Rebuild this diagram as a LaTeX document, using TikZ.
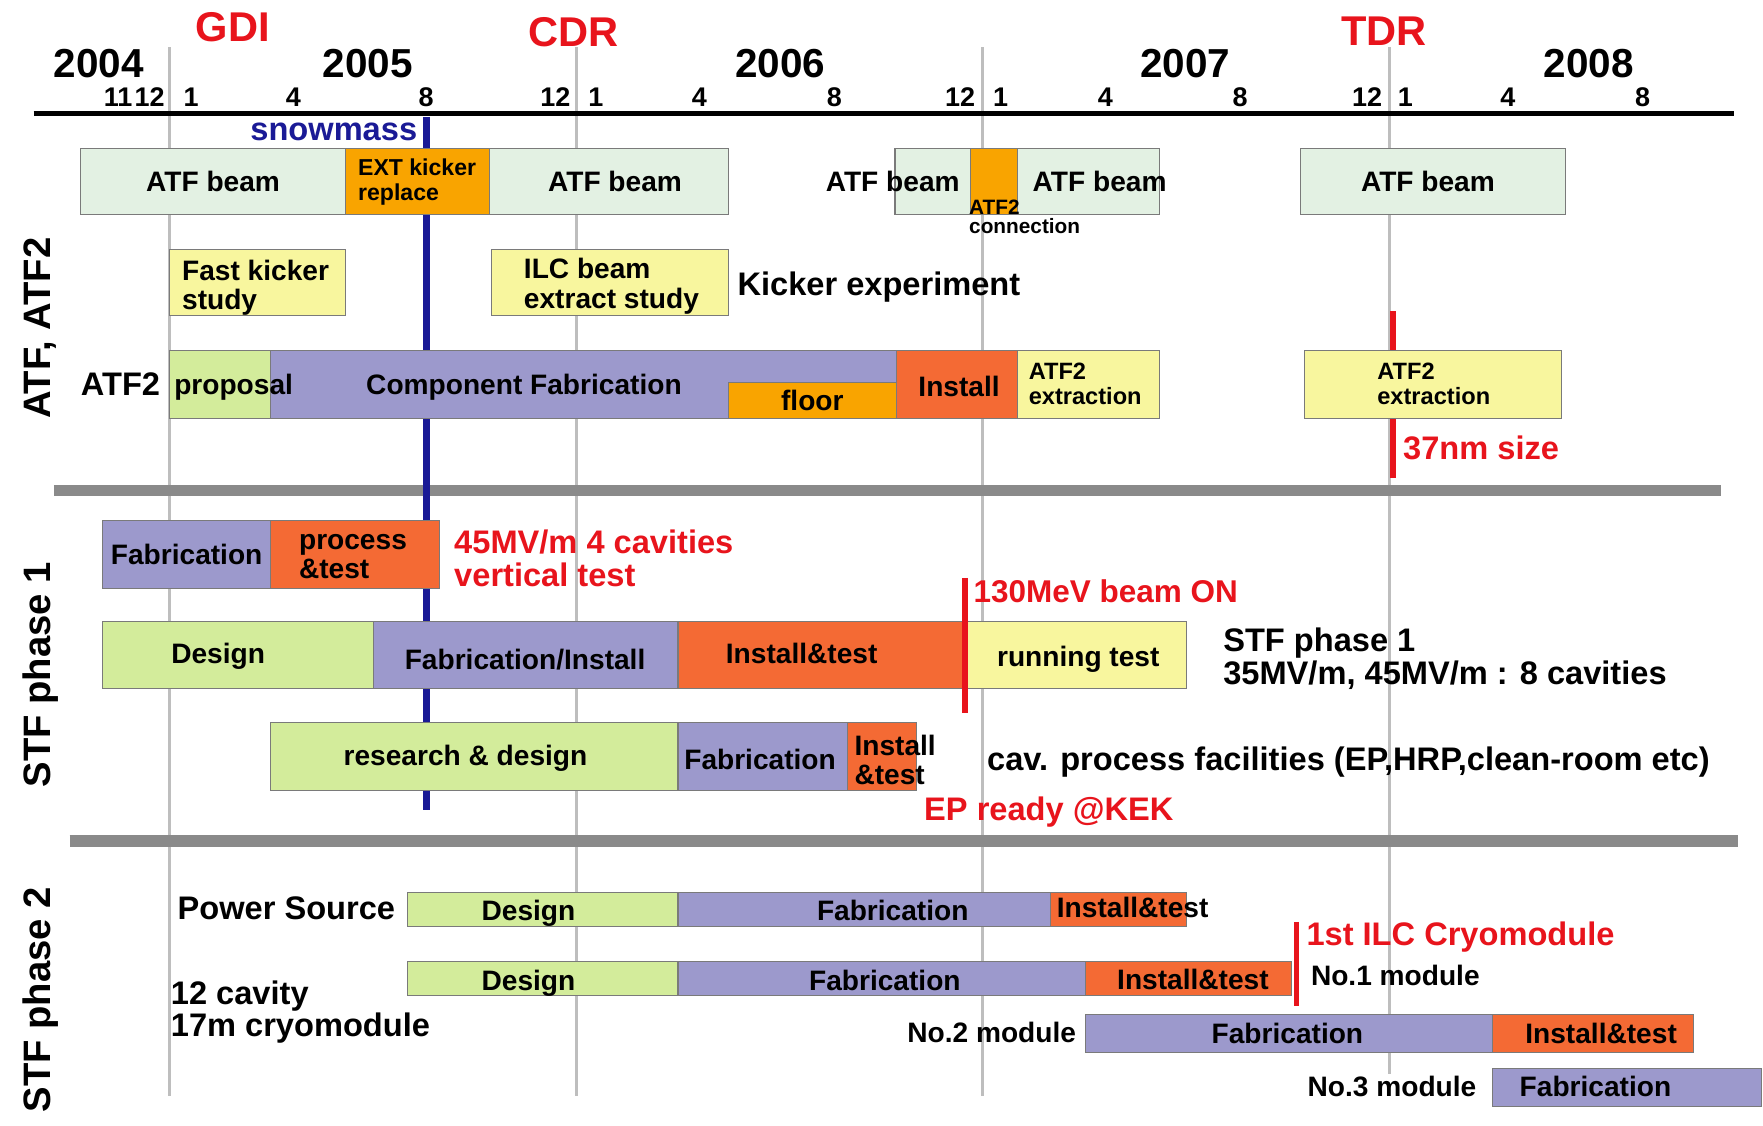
\documentclass[tikz,border=0pt]{standalone}
\usepackage{fontspec}
\setmainfont{Liberation Sans}
\definecolor{atfg}{HTML}{E3F1E3}
\definecolor{lgreen}{HTML}{D3EC9B}
\definecolor{purp}{HTML}{9C99CC}
\definecolor{rorange}{HTML}{F46A34}
\definecolor{orng}{HTML}{F9A400}
\definecolor{yel}{HTML}{F8F69E}
\definecolor{redt}{HTML}{E8141C}
\definecolor{navy}{HTML}{1A1A96}
\definecolor{vgray}{HTML}{BEBEBE}
\definecolor{sgray}{HTML}{8A8A8A}
\definecolor{bord}{HTML}{7A7A7A}
\newcommand{\fs}[2]{\fontsize{#1pt}{#2pt}\selectfont\bfseries}
\newcommand{\tbar}[7]{\node[bar,#2,minimum width={(#5-#3)*1pt},minimum height={(#6-#4)*1pt}] (#1) at (#3,#4) {#7};}
\tikzset{
 txt/.style={inner sep=0pt, outer sep=0pt, text depth=0pt, font=\fs{25}{26}},
 lab/.style={txt, font=\fs{29}{29}},
 yearlab/.style={txt, font=\fs{36}{36}},
 monlab/.style={txt, font=\fs{24}{24}},
 milestone/.style={txt, text=redt, font=\fs{37}{37}},
 side/.style={txt, rotate=90, font=\fs{34}{34}},
 bar/.style={draw=bord, line width=0.9pt, inner sep=0pt, outer sep=0pt, anchor=north west, text depth=0pt, font=\fs{25}{26}},
 vline/.style={vgray, line width=3pt},
 sepline/.style={sgray, line width=10pt},
 redline/.style={redt, line width=5pt},
}
\begin{document}
\begin{tikzpicture}[x=1pt,y=-1pt]
\useasboundingbox[fill=white] (0,0) rectangle (1568,1001);
% year boundary lines
\draw[vline] (151,42) -- (151,975);
\draw[vline] (513,42) -- (513,975);
\draw[vline] (874,42) -- (874,975);
\draw[vline] (1236,42) -- (1236,955);
% separators
\draw[sepline] (48,436) -- (1531,436);
\draw[sepline] (62,748) -- (1546,748);
% time axis
\draw[line width=5pt] (30,101) -- (1542,101);
% snowmass line
\draw[navy, line width=6pt] (379.5,104) -- (379.5,720);
% TDR marker line
\draw[redline] (1239,277) -- (1239,425);

% top labels
\node[milestone] (gdi) at (207,24) {GDI};
\node[milestone] (cdr) at (510,28) {CDR};
\node[milestone] (tdr) at (1231,28) {TDR};
\node[yearlab] (y2004) at (88,56) {2004};
\node[yearlab] (y2005) at (327,56) {2005};
\node[yearlab] (y2006) at (694,56) {2006};
\node[yearlab] (y2007) at (1054,56) {2007};
\node[yearlab] (y2008) at (1413,56) {2008};
\node[monlab] (m1) at (105,86.5) {11};
\node[monlab] (m2) at (133,86.5) {12};
\node[monlab] (m3) at (170,86.5) {1};
\node[monlab] (m4) at (261,86.5) {4};
\node[monlab] (m5) at (379,86.5) {8};
\node[monlab] (m6) at (494,86.5) {12};
\node[monlab] (m7) at (530,86.5) {1};
\node[monlab] (m8) at (622,86.5) {4};
\node[monlab] (m9) at (742,86.5) {8};
\node[monlab] (m10) at (854,86.5) {12};
\node[monlab] (m11) at (890,86.5) {1};
\node[monlab] (m12) at (983,86.5) {4};
\node[monlab] (m13) at (1103,86.5) {8};
\node[monlab] (m14) at (1216,86.5) {12};
\node[monlab] (m15) at (1250,86.5) {1};
\node[monlab] (m16) at (1341,86.5) {4};
\node[monlab] (m17) at (1461,86.5) {8};
\node[lab, text=navy, anchor=east] (snow) at (371,117) {snowmass};

% side labels
\node[side] (sec1) at (33,292) {ATF, ATF2};
\node[side] (sec2) at (33,600) {STF phase 1};
\node[side] (sec3) at (33,889) {STF phase 2};

% ---- ATF row 1
\tbar{atfA}{fill=atfg}{72}{132}{307}{191}{ATF beam}
\tbar{ext}{fill=orng}{307}{132}{435}{191}{}
\node[txt, font=\fs{20.5}{22}, align=left] (extt) at (371,160) {EXT kicker\\replace};
\tbar{atfB}{fill=atfg}{435}{132}{648}{191}{}
\node[txt] (atfBt) at (547,161) {ATF beam};
\tbar{atfC}{fill=atfg}{796}{132}{863}{191}{}
\tbar{conn}{fill=orng}{863}{132}{905}{191}{}
\tbar{atfD}{fill=atfg}{905}{132}{1031}{191}{}
\node[txt] (atfCt) at (794,161) {ATF beam};
\node[txt] (atfDt) at (978,161) {ATF beam};
\node[txt, font=\fs{18.5}{17}, anchor=west, align=left] (connt) at (862,193) {ATF2\\connection};
\tbar{atfE}{fill=atfg}{1157}{132}{1392}{191}{}
\node[txt] (atfEt) at (1270,161) {ATF beam};
% ---- ATF row 2
\tbar{fk}{fill=yel}{151}{222}{307}{281}{}
\node[txt, anchor=west, align=left] (fkt) at (162,253) {Fast kicker\\study};
\tbar{ilc}{fill=yel}{437}{222}{648}{281}{}
\node[txt, anchor=west, align=left] (ilct) at (466,252) {ILC beam\\extract study};
\node[lab, anchor=west] (kick) at (656,252) {Kicker experiment};
% ---- ATF row 3
\node[lab, anchor=west] (atf2l) at (72,342) {ATF2};
\tbar{prop}{fill=lgreen}{151}{312}{241}{372}{}
\tbar{comp}{fill=purp}{241}{312}{797}{372}{}
\node[txt, anchor=west] (propt) at (155,342) {proposal};
\node[txt] (compt) at (466,342) {Component Fabrication};
\tbar{floor}{fill=orng}{648}{340}{797}{372}{floor}
\tbar{inst}{fill=rorange}{797}{312}{905}{372}{}
\node[txt] (instt) at (853,344) {Install};
\tbar{ext1}{fill=yel}{905}{312}{1031}{372}{}
\node[txt, font=\fs{21}{22}, anchor=west, align=left] (ext1t) at (915,341) {ATF2\\extraction};
\tbar{ext2}{fill=yel}{1160}{312}{1389}{372}{}
\node[txt, font=\fs{21}{22}, anchor=west, align=left] (ext2t) at (1225,341) {ATF2\\extraction};
\node[lab, text=redt, anchor=west] (nm) at (1248,398) {37nm size};

% ---- STF phase 1 row 1
\tbar{p1fab}{fill=purp}{91}{463}{241}{523}{Fabrication}
\tbar{p1proc}{fill=rorange}{241}{463}{391}{523}{}
\node[txt, anchor=west, align=left] (p1proct) at (266,495) {process\\\&test};
\node[lab, text=redt, anchor=west, align=left] (vt) at (404,496.5) {45MV/m 4 cavities\\vertical test};
% row 2
\tbar{p1des}{fill=lgreen}{91}{553}{332}{612}{}
\node[txt] (p1dest) at (194,581) {Design};
\tbar{p1fi}{fill=purp}{332}{553}{603}{612}{}
\node[txt] (p1fit) at (467,586) {Fabrication/Install};
\tbar{p1it}{fill=rorange}{603}{553}{858}{612}{}
\node[txt] (p1itt) at (713,581) {Install\&test};
\tbar{p1run}{fill=yel}{858}{553}{1055}{612}{}
\node[txt] (p1runt) at (959,584) {running test};
\draw[redline] (858,514) -- (858,634);
\node[lab, text=redt, anchor=west, font=\fs{28}{28}] (beam) at (866,526) {130MeV beam ON};
\node[lab, anchor=west, align=left] (stf1) at (1088,583.5) {STF phase 1\\35MV/m, 45MV/m : 8 cavities};
% row 3
\tbar{p1rd}{fill=lgreen}{241}{643}{603}{703}{}
\node[txt] (p1rdt) at (414,672) {research \& design};
\tbar{p1fab2}{fill=purp}{603}{643}{754}{703}{}
\node[txt] (p1fab2t) at (676,675) {Fabrication};
\tbar{p1it2}{fill=rorange}{754}{643}{815}{703}{}
\node[txt, anchor=west, align=left] (p1it2t) at (760,676) {Install\\\&test};
\node[lab, anchor=west] (cav) at (878,675) {cav. process facilities (EP,HRP,clean-room etc)};
\node[lab, text=redt, anchor=west] (ep) at (822,719) {EP ready @KEK};

% ---- STF phase 2
\node[lab, anchor=west] (ps) at (158,808) {Power Source};
\tbar{psd}{fill=lgreen}{362}{794}{603}{824}{}
\node[txt] (psdt) at (470,810) {Design};
\tbar{psf}{fill=purp}{603}{794}{934}{824}{}
\node[txt] (psft) at (794,810) {Fabrication};
\tbar{psi}{fill=rorange}{934}{794}{1055}{824}{}
\node[txt, anchor=west] (psit) at (940,807) {Install\&test};
\draw[redline] (1153,820) -- (1153,895);
\node[lab, text=redt, anchor=west] (cryo) at (1162,830) {1st ILC Cryomodule};
\tbar{cmd}{fill=lgreen}{362}{855}{603}{885}{}
\node[txt] (cmdt) at (470,872) {Design};
\tbar{cmf}{fill=purp}{603}{855}{965}{885}{}
\node[txt] (cmft) at (787,872) {Fabrication};
\tbar{cmi}{fill=rorange}{965}{855}{1149}{885}{}
\node[txt] (cmit) at (1061,871) {Install\&test};
\node[txt, anchor=west] (no1) at (1166,867) {No.1 module};
\node[lab, anchor=west, align=left] (cav12) at (152,897) {12 cavity\\17m cryomodule};
\node[txt, anchor=east] (no2) at (957,918) {No.2 module};
\tbar{m2f}{fill=purp}{965}{902}{1327}{936}{}
\node[txt] (m2ft) at (1145,919) {Fabrication};
\tbar{m2i}{fill=rorange}{1327}{902}{1506}{936}{}
\node[txt] (m2it) at (1424,919) {Install\&test};
\node[txt, anchor=east] (no3) at (1313,966) {No.3 module};
\tbar{m3f}{fill=purp}{1327}{950}{1567}{984}{}
\node[txt] (m3ft) at (1419,966) {Fabrication};
\end{tikzpicture}
\end{document}
